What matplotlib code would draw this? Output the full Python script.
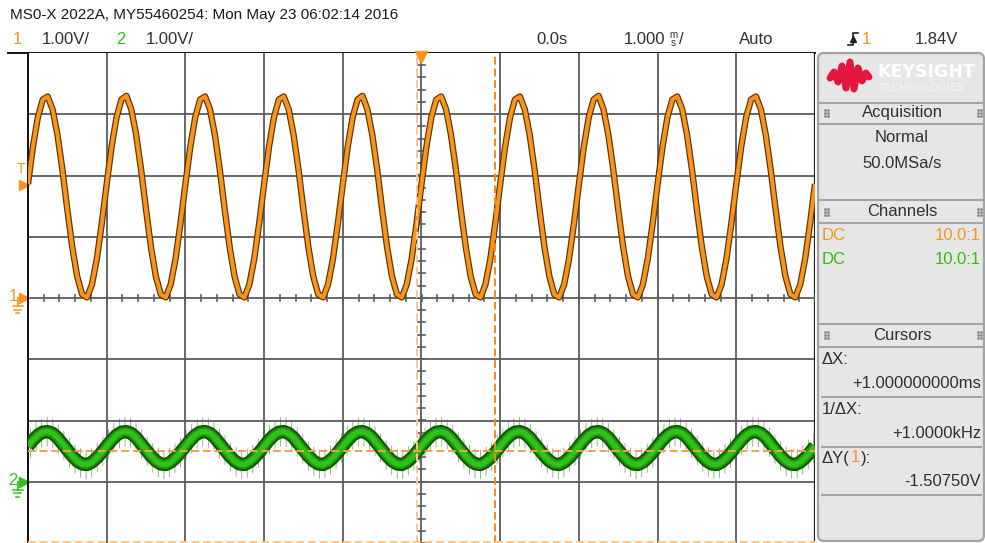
import numpy as np
import matplotlib
matplotlib.use("Agg")
import matplotlib.pyplot as plt
from matplotlib import font_manager
from matplotlib.patches import FancyBboxPatch
from matplotlib.transforms import blended_transform_factory

# --- scope readings (ms, volts) ---
time_ms = np.linspace(-5.0, 5.0, 161)   # 1 ms/div, 16 samples per div

ch1_volts = [
    1.86, 2.47, 2.95, 3.24, 3.29, 3.08, 2.66, 2.09, 1.44, 0.83, 0.35, 0.06, 0.01, 0.22, 0.64, 1.22,
    1.86, 2.47, 2.95, 3.24, 3.30, 3.08, 2.66, 2.09, 1.44, 0.83, 0.35, 0.06, 0.01, 0.22, 0.64, 1.22,
    1.86, 2.47, 2.95, 3.24, 3.29, 3.08, 2.66, 2.09, 1.44, 0.83, 0.35, 0.06, 0.01, 0.22, 0.64, 1.22,
    1.86, 2.47, 2.95, 3.24, 3.29, 3.08, 2.66, 2.09, 1.44, 0.83, 0.35, 0.06, 0.01, 0.22, 0.64, 1.22,
    1.86, 2.47, 2.95, 3.24, 3.30, 3.08, 2.66, 2.09, 1.44, 0.83, 0.35, 0.06, 0.01, 0.22, 0.64, 1.22,
    1.86, 2.47, 2.95, 3.24, 3.29, 3.08, 2.66, 2.09, 1.44, 0.83, 0.35, 0.06, 0.01, 0.22, 0.64, 1.22,
    1.86, 2.47, 2.95, 3.24, 3.29, 3.08, 2.66, 2.09, 1.44, 0.83, 0.35, 0.06, 0.01, 0.22, 0.64, 1.22,
    1.86, 2.47, 2.95, 3.24, 3.30, 3.08, 2.66, 2.09, 1.44, 0.83, 0.35, 0.06, 0.01, 0.22, 0.64, 1.22,
    1.86, 2.47, 2.95, 3.24, 3.29, 3.08, 2.66, 2.09, 1.44, 0.83, 0.35, 0.06, 0.01, 0.22, 0.64, 1.22,
    1.86, 2.47, 2.95, 3.24, 3.29, 3.08, 2.66, 2.09, 1.44, 0.83, 0.35, 0.06, 0.01, 0.22, 0.64, 1.22,
    1.86,
]
ch2_volts = [
    0.58, 0.68, 0.76, 0.81, 0.82, 0.79, 0.72, 0.62, 0.52, 0.42, 0.34, 0.29, 0.28, 0.32, 0.39, 0.48,
    0.58, 0.68, 0.76, 0.81, 0.82, 0.79, 0.72, 0.62, 0.52, 0.42, 0.34, 0.29, 0.28, 0.32, 0.39, 0.48,
    0.58, 0.68, 0.76, 0.81, 0.82, 0.79, 0.72, 0.62, 0.52, 0.42, 0.34, 0.29, 0.28, 0.32, 0.39, 0.48,
    0.58, 0.68, 0.76, 0.81, 0.82, 0.79, 0.72, 0.62, 0.52, 0.42, 0.34, 0.29, 0.28, 0.32, 0.39, 0.48,
    0.58, 0.68, 0.76, 0.81, 0.82, 0.79, 0.72, 0.62, 0.52, 0.42, 0.34, 0.29, 0.28, 0.32, 0.39, 0.48,
    0.58, 0.68, 0.76, 0.81, 0.82, 0.79, 0.72, 0.62, 0.52, 0.42, 0.34, 0.29, 0.28, 0.32, 0.39, 0.48,
    0.58, 0.68, 0.76, 0.81, 0.82, 0.79, 0.72, 0.62, 0.52, 0.42, 0.34, 0.29, 0.28, 0.32, 0.39, 0.48,
    0.58, 0.68, 0.76, 0.81, 0.82, 0.79, 0.72, 0.62, 0.52, 0.42, 0.34, 0.29, 0.28, 0.32, 0.39, 0.48,
    0.58, 0.68, 0.76, 0.81, 0.82, 0.79, 0.72, 0.62, 0.52, 0.42, 0.34, 0.29, 0.28, 0.32, 0.39, 0.48,
    0.58, 0.68, 0.76, 0.81, 0.82, 0.79, 0.72, 0.62, 0.52, 0.42, 0.34, 0.29, 0.28, 0.32, 0.39, 0.48,
    0.58,
]
ch2_ground_div = -3.0      # channel 2 ground marker, divisions from centre
trigger_level = 1.84
cursor_x = [-0.06, 0.94]   # ms
cursor_y = [-2.50, -3.98]  # V (channel 1 scale)

header = "MS0-X 2022A, MY55460254: Mon May 23 06:02:14 2016"
panel_rows = {"Acquisition": ["Normal", "50.0MSa/s"],
              "Cursors": ["+1.000000000ms", "+1.0000kHz", "-1.50750V"]}

ORANGE = "#f7941d"
GREEN = "#2fc21a"
TXT = "#303030"

names = {f.name for f in font_manager.fontManager.ttflist}
NARROW = "Liberation Sans Narrow" if "Liberation Sans Narrow" in names else None
SANS = "Liberation Sans"
plt.rcParams["font.family"] = [SANS, "DejaVu Sans"]
plt.rcParams["hatch.linewidth"] = 0.6

fig = plt.figure(figsize=(9.85, 5.43), dpi=100)
fig.patch.set_facecolor("white")

# overlay in pixel coordinates for labels and the side panel
ov = fig.add_axes([0, 0, 1, 1])
ov.set_xlim(0, 985)
ov.set_ylim(543, 0)
ov.axis("off")

ax = fig.add_axes([28 / 985, 0, (815 - 28) / 985, (543 - 53) / 543])
ax.set_xlim(-5, 5)
ax.set_ylim(-4, 4)
ax.set_xticks([])
ax.set_yticks([])
for s in ("bottom", "right", "top"):
    ax.spines[s].set_visible(False)
ax.spines["left"].set_color("#101010")
ax.spines["left"].set_linewidth(1.4)

# graticule
for xv in range(-4, 6):
    ax.axvline(xv, color="#5c5c5c", lw=1.3, zorder=1)
for yv in range(-3, 4):
    ax.axhline(yv, color="#5c5c5c", lw=1.3, zorder=1)
ax.axvline(5, color="#202020", lw=1.6, zorder=1)
for yy in np.arange(-4, 4.01, 0.2):
    ax.plot([-0.04, 0.04], [yy, yy], color="#5c5c5c", lw=1.2, zorder=1)
for xx in np.arange(-5, 5.01, 0.2):
    ax.plot([xx, xx], [-0.05, 0.05], color="#5c5c5c", lw=1.2, zorder=1)

# channel 2 (noisy green band)
t = time_ms
v2 = np.array(ch2_volts) + ch2_ground_div
ax.fill_between(t, v2 - 0.24, v2 + 0.24, facecolor="none", edgecolor="#3d6b30",
                hatch="|||", lw=0, alpha=0.6, zorder=2)
ax.plot(t, v2, color="#0e5a02", lw=9.5, solid_capstyle="butt", zorder=3)
ax.plot(t, v2, color="#22960c", lw=6.5, solid_capstyle="butt", zorder=3)
ax.plot(t, v2, color=GREEN, lw=3.8, solid_capstyle="butt", zorder=3)

# channel 1
v1 = np.array(ch1_volts)
ax.plot(t, v1, color="#5a3200", lw=4.6, solid_capstyle="butt", zorder=4)
ax.plot(t, v1, color=ORANGE, lw=2.9, solid_capstyle="butt", zorder=4)

# cursors
ax.axvline(cursor_x[0], color="#ffc68c", lw=1.4, ls=(0, (4, 2)), zorder=5)
ax.axvline(cursor_x[1], color="#f28a1c", lw=1.4, ls=(0, (4, 2)), zorder=5)
ax.axhline(cursor_y[0], color="#f5a04a", lw=1.4, ls=(0, (4, 2)), zorder=5)
ax.axhline(cursor_y[1], color="#ffc68c", lw=1.4, ls=(0, (4, 2)), zorder=5)

# trigger position marker
ax.plot(0, 3.93, marker="v", ms=8, color=ORANGE, clip_on=False, zorder=6)

# left margin markers (x in pixels, y in channel volts)
bt = blended_transform_factory(ov.transData, ax.transData)
ax.plot(24, trigger_level, marker=">", ms=7, color=ORANGE, transform=bt, clip_on=False)
ax.text(21, trigger_level + 0.26, "T", color=ORANGE, fontsize=10, ha="center",
        va="center", transform=bt, clip_on=False)


def ground_marker(y, label, color):
    ax.text(13, y + 0.02, label, color=color, fontsize=12, ha="center", va="center",
            transform=bt, clip_on=False)
    ax.plot([17.5, 22], [y, y], color=color, lw=1.2, transform=bt, clip_on=False)
    ax.plot(24, y, marker=">", ms=7, color=color, transform=bt, clip_on=False)
    ax.plot([17.5, 17.5], [y, y - 0.13], color=color, lw=1.2, transform=bt, clip_on=False)
    for dy, hw in ((0.13, 5), (0.19, 3.5), (0.25, 1.5)):
        ax.plot([17.5 - hw, 17.5 + hw], [y - dy, y - dy], color=color, lw=1.1,
                transform=bt, clip_on=False)


ground_marker(0.0, "1", ORANGE)
ground_marker(ch2_ground_div, "2", GREEN)

# top border
ov.plot([8, 815], [53, 53], color="#101010", lw=1.4)

# header rows
if NARROW:
    ov.text(10, 15, header, fontsize=13, family=NARROW, color="#1a1a1a", va="center")
else:
    ov.text(10, 15, header, fontsize=11, color="#1a1a1a", va="center")
row_y = 39
ov.text(17, row_y, "1", fontsize=12, color=ORANGE, va="center", ha="center")
ov.text(42, row_y, "1.00V/", fontsize=12, color=TXT, va="center")
ov.text(121, row_y, "2", fontsize=12, color=GREEN, va="center", ha="center")
ov.text(146, row_y, "1.00V/", fontsize=12, color=TXT, va="center")
ov.text(536, row_y, "0.0s", fontsize=12, color=TXT, va="center")
ov.text(624, row_y, "1.000", fontsize=12, color=TXT, va="center")
ov.text(673, row_y, "m\ns", fontsize=7, color=TXT, va="center", ha="center",
        linespacing=0.85)
ov.text(679, row_y, "/", fontsize=12, color=TXT, va="center")
ov.text(739, row_y, "Auto", fontsize=12, color=TXT, va="center")
ov.plot([848, 853, 853, 858], [45, 45, 33, 33], color="#202020", lw=1.2)
ov.plot(853, 39, marker="^", ms=4, color="#202020")
ov.text(862, row_y, "1", fontsize=12, color=ORANGE, va="center")
ov.text(958, row_y, "1.84V", fontsize=12, color=TXT, va="center", ha="right")

# side panel
ov.add_patch(FancyBboxPatch((818, 53), 166, 488, boxstyle="round,pad=0,rounding_size=6",
                            facecolor="#e6e6e6", edgecolor="#a4a4a4", lw=1.6))
for y in (103, 124, 200, 223, 324, 347):
    ov.plot([819, 984], [y, y], color="#a4a4a4", lw=1.5)
for y in (397, 447, 495):
    ov.plot([822, 981], [y, y], color="#a4a4a4", lw=1.5)

# logo
ov.plot([830, 834, 838, 842, 846, 850, 854, 858, 862, 866, 869],
        [78, 72, 82, 66, 88, 62, 89, 68, 81, 73, 77],
        color="#e3173e", lw=5, solid_joinstyle="round", solid_capstyle="round")
ov.text(877, 72, "KEYSIGHT", fontsize=12.5, family="DejaVu Sans", weight="bold",
        color="white", va="center")
ov.text(878, 88, "TECHNOLOGIES", fontsize=7.8, family="DejaVu Sans", color="#f6f6f6",
        va="center")


def grips(y):
    for gx in (825, 978):
        for dx in (0, 3):
            for dy in (-3, 0, 3):
                ov.plot(gx + dx, y + dy, marker="s", ms=0.9, color="#8a8a8a")


for title, y in (("Acquisition", 113), ("Channels", 212), ("Cursors", 335)):
    ov.text(902, y, title, fontsize=12, color=TXT, ha="center", va="center")
    grips(y)

ov.text(902, 138, panel_rows["Acquisition"][0], fontsize=12, color=TXT, ha="center", va="center")
ov.text(902, 163, panel_rows["Acquisition"][1], fontsize=12, color=TXT, ha="center", va="center")

ov.text(822, 236, "DC", fontsize=12, color=ORANGE, va="center")
ov.text(981, 236, "10.0:1", fontsize=12, color=ORANGE, va="center", ha="right")
ov.text(822, 260, "DC", fontsize=12, color="#33bb11", va="center")
ov.text(981, 260, "10.0:1", fontsize=12, color="#33bb11", va="center", ha="right")

ov.text(822, 359, "\u0394X:", fontsize=12, color=TXT, va="center")
ov.text(981, 383, panel_rows["Cursors"][0], fontsize=12, color=TXT, va="center", ha="right")
ov.text(822, 409, "1/\u0394X:", fontsize=12, color=TXT, va="center")
ov.text(981, 433, panel_rows["Cursors"][1], fontsize=12, color=TXT, va="center", ha="right")
ov.text(822, 458, "\u0394Y(", fontsize=12, color=TXT, va="center")
ov.text(851, 458, "1", fontsize=12, color=ORANGE, va="center")
ov.text(861, 458, "):", fontsize=12, color=TXT, va="center")
ov.text(981, 482, panel_rows["Cursors"][2], fontsize=12, color=TXT, va="center", ha="right")

fig.savefig("out.png", dpi=100)
